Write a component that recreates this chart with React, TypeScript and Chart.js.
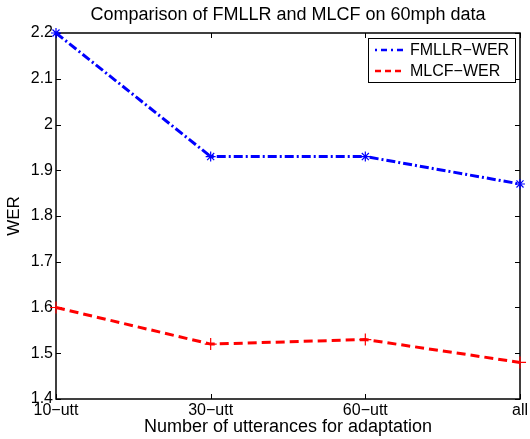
import React, { useEffect, useRef } from "react";
import { Chart, registerables } from "chart.js";

Chart.register(...registerables);

const categories = ["10\u2212utt", "30\u2212utt", "60\u2212utt", "all"];
const fmllrWER = [2.2, 1.93, 1.93, 1.87];
const mlcfWER = [1.6, 1.52, 1.53, 1.48];
const seriesNames = ["FMLLR\u2212WER", "MLCF\u2212WER"];
const yMin = 1.4;
const yMax = 2.2;
const yStep = 0.1;
const titleText = "Comparison of FMLLR and MLCF on 60mph data";
const xLabelText = "Number of utterances for adaptation";
const yLabelText = "WER";

const FONT = "'Liberation Sans', Arial, Helvetica, sans-serif";
const BLUE = "rgb(0,0,255)";
const RED = "rgb(255,0,0)";
const BLUE_DASH = [9, 3, 2, 3];
const RED_DASH = [9, 5];

const decorPlugin = {
  id: "decor",
  beforeDatasetsDraw(chart: any) {
    const { ctx, chartArea } = chart;
    const { left, right, top, bottom } = chartArea;
    ctx.save();
    ctx.strokeStyle = "#000";
    ctx.lineWidth = 1.5;
    ctx.setLineDash([]);
    ctx.strokeRect(left, top, right - left, bottom - top);
    const tl = 5;
    ctx.lineWidth = 1;
    const xs = chart.scales.x;
    for (let i = 0; i < categories.length; i++) {
      const px = Math.round(xs.getPixelForValue(i)) + 0.5;
      ctx.beginPath();
      ctx.moveTo(px, bottom);
      ctx.lineTo(px, bottom - tl);
      ctx.moveTo(px, top);
      ctx.lineTo(px, top + tl);
      ctx.stroke();
    }
    const ys = chart.scales.y;
    ys.ticks.forEach((t: any) => {
      const py = Math.round(ys.getPixelForValue(t.value)) + 0.5;
      ctx.beginPath();
      ctx.moveTo(left, py);
      ctx.lineTo(left + tl, py);
      ctx.moveTo(right, py);
      ctx.lineTo(right - tl, py);
      ctx.stroke();
    });
    ctx.restore();
  },
  afterDatasetsDraw(chart: any) {
    const { ctx, chartArea } = chart;
    const { left, right, top, bottom } = chartArea;
    ctx.save();
    ctx.fillStyle = "#000";
    ctx.textAlign = "center";
    ctx.textBaseline = "middle";
    ctx.font = `18px ${FONT}`;
    ctx.fillText(titleText, (left + right) / 2, 15);
    ctx.fillText(xLabelText, (left + right) / 2, 427);
    ctx.font = `17px ${FONT}`;
    ctx.save();
    ctx.translate(14, (top + bottom) / 2);
    ctx.rotate(-Math.PI / 2);
    ctx.fillText(yLabelText, 0, 0);
    ctx.restore();

    // legend
    const lx = 368, ly = 38, lw = 147, lh = 44;
    ctx.fillStyle = "#fff";
    ctx.fillRect(lx, ly, lw, lh);
    ctx.strokeStyle = "#000";
    ctx.lineWidth = 1;
    ctx.strokeRect(lx + 0.5, ly + 0.5, lw, lh);
    const rows = [
      { name: seriesNames[0], color: BLUE, dash: [2, 4, 6, 4], y: 50 },
      { name: seriesNames[1], color: RED, dash: [6, 4], y: 71 },
    ];
    rows.forEach((r) => {
      ctx.strokeStyle = r.color;
      ctx.lineWidth = 2.5;
      ctx.setLineDash(r.dash);
      ctx.beginPath();
      ctx.moveTo(375, r.y);
      ctx.lineTo(405, r.y);
      ctx.stroke();
      ctx.setLineDash([]);
      ctx.fillStyle = "#000";
      ctx.textAlign = "left";
      ctx.font = `16px ${FONT}`;
      ctx.fillText(r.name, 410, r.y + 1);
    });
    ctx.restore();
  },
};

export default function App() {
  const ref = useRef<HTMLCanvasElement | null>(null);
  useEffect(() => {
    if (!ref.current) return;
    const chart = new Chart(ref.current, {
      type: "line",
      data: {
        labels: categories,
        datasets: [
          {
            label: seriesNames[0],
            data: fmllrWER,
            borderColor: BLUE,
            backgroundColor: BLUE,
            borderWidth: 3,
            borderDash: BLUE_DASH,
            pointStyle: "star",
            pointRadius: 5,
            pointBorderWidth: 1.2,
            pointBorderColor: BLUE,
            tension: 0,
            fill: false,
            clip: false as any,
          },
          {
            label: seriesNames[1],
            data: mlcfWER,
            borderColor: RED,
            backgroundColor: RED,
            borderWidth: 3,
            borderDash: RED_DASH,
            pointStyle: "cross",
            pointRadius: 6,
            pointBorderWidth: 1.2,
            pointBorderColor: RED,
            tension: 0,
            fill: false,
            clip: false as any,
          },
        ],
      },
      options: {
        responsive: false,
        animation: false,
        devicePixelRatio: 1,
        layout: { padding: { left: 0, top: 33, right: 10, bottom: 0 } },
        plugins: {
          legend: { display: false },
          title: { display: false },
          tooltip: { enabled: false },
        },
        scales: {
          x: {
            type: "category",
            offset: false,
            grid: { display: false, drawTicks: false },
            border: { display: false },
            ticks: {
              color: "#000",
              font: { family: FONT, size: 16 },
              padding: 2,
              maxRotation: 0,
              autoSkip: false,
            },
            afterFit: (s: any) => {
              s.height = 40;
            },
          },
          y: {
            min: yMin,
            max: yMax,
            grid: { display: false, drawTicks: false },
            border: { display: false },
            ticks: {
              stepSize: yStep,
              color: "#000",
              font: { family: FONT, size: 16 },
              padding: 3,
              callback: (v: any) => String(Number(Number(v).toFixed(1))),
            },
            afterFit: (s: any) => {
              s.width = 56;
            },
          },
        },
      },
      plugins: [decorPlugin],
    });
    return () => chart.destroy();
  }, []);
  return (
    <div style={{ position: "fixed", left: 0, top: 0, width: 530, height: 439, background: "#fff" }}>
      <canvas ref={ref} width={530} height={439} style={{ width: 530, height: 439 }} />
    </div>
  );
}
